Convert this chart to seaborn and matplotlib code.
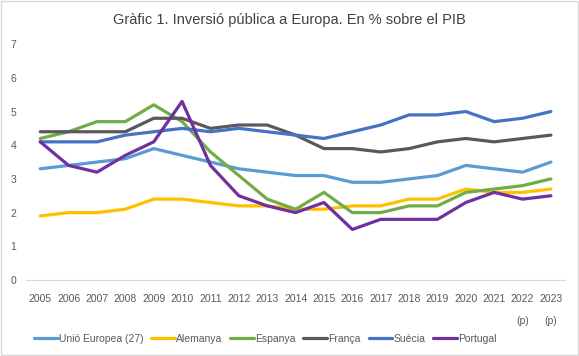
import numpy as np
import pandas as pd
import matplotlib
matplotlib.use('Agg')
import matplotlib.pyplot as plt
import seaborn as sns

years = ['2005', '2006', '2007', '2008', '2009', '2010', '2011', '2012', '2013', '2014',
         '2015', '2016', '2017', '2018', '2019', '2020', '2021', '2022\n(p)', '2023\n(p)']

ue27 = [3.3, 3.4, 3.5, 3.6, 3.9, 3.7, 3.5, 3.3, 3.2, 3.1, 3.1, 2.9, 2.9, 3.0, 3.1, 3.4, 3.3, 3.2, 3.5]
alemanya = [1.9, 2.0, 2.0, 2.1, 2.4, 2.4, 2.3, 2.2, 2.2, 2.1, 2.1, 2.2, 2.2, 2.4, 2.4, 2.7, 2.6, 2.6, 2.7]
espanya = [4.2, 4.4, 4.7, 4.7, 5.2, 4.7, 3.8, 3.1, 2.4, 2.1, 2.6, 2.0, 2.0, 2.2, 2.2, 2.6, 2.7, 2.8, 3.0]
franca = [4.4, 4.4, 4.4, 4.4, 4.8, 4.8, 4.5, 4.6, 4.6, 4.3, 3.9, 3.9, 3.8, 3.9, 4.1, 4.2, 4.1, 4.2, 4.3]
suecia = [4.1, 4.1, 4.1, 4.3, 4.4, 4.5, 4.4, 4.5, 4.4, 4.3, 4.2, 4.4, 4.6, 4.9, 4.9, 5.0, 4.7, 4.8, 5.0]
portugal = [4.1, 3.4, 3.2, 3.7, 4.1, 5.3, 3.4, 2.5, 2.2, 2.0, 2.3, 1.5, 1.8, 1.8, 1.8, 2.3, 2.6, 2.4, 2.5]

series = {
    'Unió Europea (27)': ue27,
    'Alemanya': alemanya,
    'Espanya': espanya,
    'França': franca,
    'Suècia': suecia,
    'Portugal': portugal,
}
colors = ['#5B9BD5', '#FFC000', '#70AD47', '#595959', '#4472C4', '#7030A0']

rows = []
for name, vals in series.items():
    for i, v in enumerate(vals):
        rows.append({'idx': i, 'valor': v, 'pais': name})
df = pd.DataFrame(rows)

sns.set_style('white')
plt.rcParams['font.family'] = ['Liberation Sans', 'DejaVu Sans']

fig = plt.figure(figsize=(5.79, 3.56), dpi=100)
ax = fig.add_axes([0.045, 0.2135, 0.931, 0.6625])

sns.lineplot(data=df, x='idx', y='valor', hue='pais', palette=colors,
             linewidth=2.3, ax=ax, legend=False)

ax.set_xlim(-0.5, len(years) - 0.5)
ax.set_ylim(0, 7)
ax.set_xticks(range(len(years)))
ax.set_xticklabels(years, fontsize=7.5, color='#595959', linespacing=2.5)
ax.set_yticks(range(0, 8))
ax.set_yticklabels([str(i) for i in range(0, 8)], fontsize=7.5, color='#595959')
ax.tick_params(axis='x', length=0, pad=10)
ax.tick_params(axis='y', length=0, pad=7)
for s in ['top', 'right', 'left']:
    ax.spines[s].set_visible(False)
ax.spines['bottom'].set_color('#D9D9D9')
ax.spines['bottom'].set_linewidth(0.8)
ax.set_xlabel('')
ax.set_ylabel('')

fig.text(0.5, 0.945, 'Gràfic 1. Inversió pública a Europa. En % sobre el PIB',
         ha='center', va='center', fontsize=10.5, color='#404040')

handles = [plt.Line2D([], [], color=c, lw=2.3) for c in colors]
fig.legend(handles, list(series.keys()), loc='center', bbox_to_anchor=(0.458, 0.048),
           ncol=6, frameon=False, fontsize=7.5, handlelength=2.3, handletextpad=0.1,
           columnspacing=0.75, labelcolor='#595959')

border = plt.Rectangle((0.002, 0.003), 0.996, 0.994, transform=fig.transFigure,
                       fill=False, edgecolor='#D9D9D9', lw=1)
fig.patches.append(border)

fig.savefig('out.png', dpi=100)
